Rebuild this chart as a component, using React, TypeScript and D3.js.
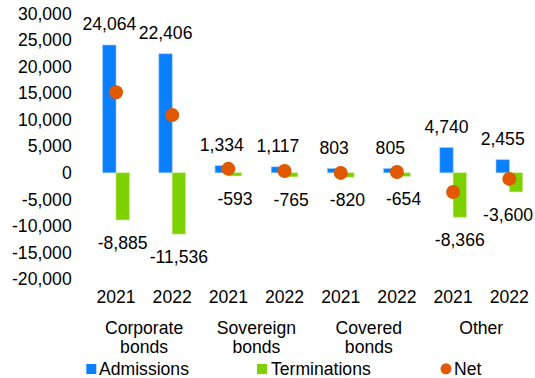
import React from "react";
import * as d3 from "d3";

const categories = ["Corporate bonds", "Sovereign bonds", "Covered bonds", "Other"];
const years = ["2021", "2022"];
const admissions = [24064, 22406, 1334, 1117, 803, 805, 4740, 2455];
const terminations = [-8885, -11536, -593, -765, -820, -654, -8366, -3600];
const yTicks = [30000, 25000, 20000, 15000, 10000, 5000, 0, -5000, -10000, -15000, -20000];

const W = 535;
const H = 378;
const BLUE = "#0A7FFF";
const GREEN = "#7ED100";
const ORANGE = "#E05800";
const FONT = "'Liberation Sans', Arial, sans-serif";
const FS = 17.6;

const fmt0 = d3.format(",");
const fmt = (v: number) => fmt0(v).replace("\u2212", "-");

function textWidth(s: string) {
  let w = 0;
  for (const c of s) {
    if (c === ",") w += 0.278;
    else if (c === "-") w += 0.333;
    else w += 0.556;
  }
  return w * FS;
}

export default function App() {
  const items = categories.flatMap((c) => years.map((y) => `${c}|${y}`));
  const net = admissions.map((a, i) => a + terminations[i]);

  const x = d3.scaleBand<string>().domain(items).range([87.9, 537.4]).padding(0);
  const y = d3.scaleLinear().domain([-20000, 30000]).range([279, 13.5]);
  const barW = 13.3;
  const cx = (i: number) => (x(items[i]) as number) + x.bandwidth() / 2;

  return (
    <svg width={W} height={H} style={{ position: "absolute", left: 0, top: 0, fontFamily: FONT }}>
      <rect width={W} height={H} fill="#fff" />
      {yTicks.map((t) => (
        <text key={t} x={71.7} y={y(t)} dy="0.35em" textAnchor="end" fontSize={FS} fill="#000">
          {fmt(t)}
        </text>
      ))}
      {items.map((it, i) => {
        const c = cx(i);
        const a = admissions[i];
        const tv = terminations[i];
        const tw = textWidth(fmt(tv));
        let tcx = c + barW / 2;
        if (tcx + tw / 2 > 533) tcx = 533 - tw / 2;
        return (
          <g key={it}>
            <rect x={c - barW} y={y(a)} width={barW} height={y(0) - y(a)} fill={BLUE} stroke="#8fc4ff" strokeWidth={0.6} />
            <rect x={c} y={y(0)} width={barW} height={y(tv) - y(0)} fill={GREEN} stroke="#c3ec85" strokeWidth={0.6} />
            <text x={c - barW / 2} y={y(a) - 21} dy="0.35em" textAnchor="middle" fontSize={FS} fill="#000">
              {fmt(a)}
            </text>
            <text x={tcx} y={y(tv) + 23} dy="0.35em" textAnchor="middle" fontSize={FS} fill="#000">
              {fmt(tv)}
            </text>
            <text x={c} y={296.7} dy="0.35em" textAnchor="middle" fontSize={FS} fill="#000">
              {years[i % 2]}
            </text>
          </g>
        );
      })}
      {items.map((it, i) => (
        <circle key={"n" + it} cx={cx(i)} cy={y(net[i])} r={7} fill={ORANGE} />
      ))}
      {categories.map((c, k) => {
        const mid = (cx(2 * k) + cx(2 * k + 1)) / 2;
        const parts = c.split(" ");
        return (
          <text key={c} x={mid} textAnchor="middle" fontSize={FS} fill="#000">
            {parts.map((p, j) => (
              <tspan key={j} x={mid} y={327.8 + j * 19.5} dy="0.35em">
                {p}
              </tspan>
            ))}
          </text>
        );
      })}
      <g fontSize={FS} fill="#000">
        <rect x={86.3} y={364} width={10} height={10} fill={BLUE} />
        <text x={99} y={368.5} dy="0.35em">Admissions</text>
        <rect x={257} y={364} width={10} height={10} fill={GREEN} />
        <text x={271} y={368.5} dy="0.35em">Terminations</text>
        <circle cx={446} cy={368.8} r={5.5} fill={ORANGE} />
        <text x={454} y={368.5} dy="0.35em">Net</text>
      </g>
    </svg>
  );
}
